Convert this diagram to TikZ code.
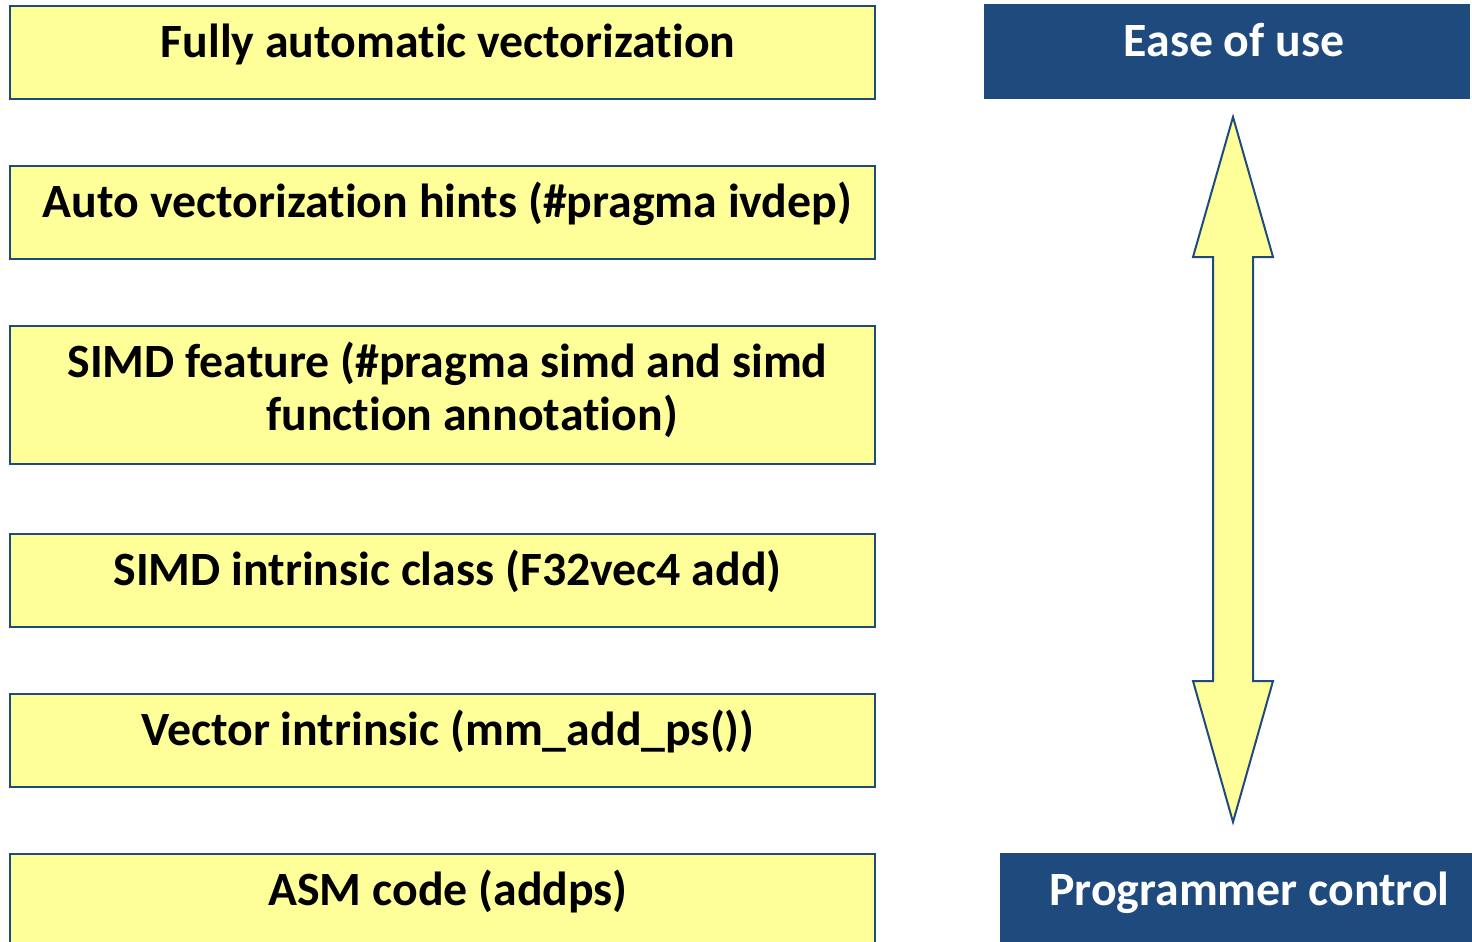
\documentclass[tikz,border=0pt]{standalone}
\usepackage{fontspec}
\setmainfont{Carlito}[Ligatures={NoCommon}]
\definecolor{boxyellow}{HTML}{FFFF99}
\definecolor{boxblue}{HTML}{1F4A7E}
\begin{document}
\begin{tikzpicture}[x=0.5pt,y=-0.5pt,
  ybox/.style={draw=boxblue, line width=1pt, fill=boxyellow, rectangle, inner sep=0pt, anchor=north west},
  dbox/.style={draw=none, fill=boxblue, rectangle, inner sep=0pt, anchor=north west},
  ytxt/.style={anchor=base, inner sep=0pt, font=\fontsize{23.9}{28}\selectfont\bfseries, text=black},
  dtxt/.style={anchor=base, inner sep=0pt, font=\fontsize{23.9}{28}\selectfont\bfseries, text=white},
  bigarrow/.style={draw=boxblue, line width=1pt, fill=boxyellow, line join=miter}]
\useasboundingbox (0,0) rectangle (1472,942);
\clip (0,0) rectangle (1472,942);
% left boxes
\node[ybox, minimum width=432.5pt, minimum height=46.5pt] (b1) at (9,5) {};
\node[ybox, minimum width=432.5pt, minimum height=46.5pt] (b2) at (9,165) {};
\node[ybox, minimum width=432.5pt, minimum height=69pt] (b3) at (9,325) {};
\node[ybox, minimum width=432.5pt, minimum height=46.5pt] (b4) at (9,533) {};
\node[ybox, minimum width=432.5pt, minimum height=46.5pt] (b5) at (9,693) {};
\node[ybox, minimum width=432.5pt, minimum height=50pt] (b6) at (9,853) {};
\node[ytxt] (t1) at (448,57) {Fully automatic vectorization};
\node[ytxt] (t2) at (447.5,217) {Auto vectorization hints (\#pragma ivdep)};
\node[ytxt] (t3a) at (447.5,377) {SIMD feature (\#pragma simd and simd};
\node[ytxt] (t3b) at (472,430) {function annotation)};
\node[ytxt] (t4) at (447.5,585) {SIMD intrinsic class (F32vec4 add)};
\node[ytxt] (t5) at (448,745) {Vector intrinsic (mm\_add\_ps())};
\node[ytxt] (t6) at (448,905) {ASM code (addps)};
% right boxes
\node[dbox, minimum width=243pt, minimum height=47.5pt] (ease) at (984,4) {};
\node[dtxt] (easet) at (1234,56) {Ease of use};
\node[dbox, minimum width=240pt, minimum height=50pt] (prog) at (1000,853) {};
\node[dtxt] (progt) at (1249.5,905) {Programmer control};
% double arrow
\draw[bigarrow] (1233,117) -- (1273,257) -- (1253,257) -- (1253,681) -- (1273,681)
  -- (1233,822) -- (1193,681) -- (1213,681) -- (1213,257) -- (1193,257) -- cycle;
\end{tikzpicture}
\end{document}
